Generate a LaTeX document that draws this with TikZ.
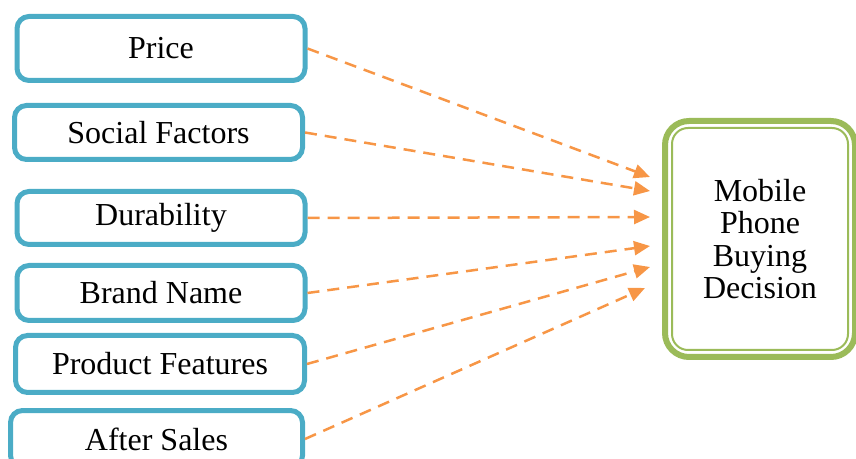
\documentclass[tikz,border=0pt]{standalone}
\usepackage{fontspec}
\setmainfont{Liberation Serif}
\usetikzlibrary{positioning, arrows.meta}

\definecolor{boxblue}{HTML}{4BACC6}
\definecolor{decgreen}{HTML}{9BBB59}
\definecolor{arrorange}{HTML}{F79646}

\begin{document}
\begin{tikzpicture}[x=0.5pt, y=-0.5pt,
		factor/.style={draw=boxblue, line width=2.5pt, rounded corners=6pt, minimum width=144pt, font=\fontsize{16}{18}\selectfont},
		flow/.style={-{Triangle[length=8pt, width=7pt]}, draw=arrorange, line width=1.25pt, dash pattern=on 6pt off 4pt}]
			\useasboundingbox (0,0) rectangle (856,459);

			\node[factor, minimum height=32pt] (price) at (161,48.5) {Price};
			\node[factor, minimum height=27pt] (social) at (158.5,132.5) {Social Factors};
			\node[factor, minimum height=26.5pt] (durab) at (161,218) {Durability};
			\node[factor, minimum height=27.5pt] (brand) at (161,293) {Brand Name};
			\node[factor, minimum height=28.5pt, minimum width=144.5pt] (feat) at (160,364) {Product Features};
			\node[factor, minimum height=28.5pt, minimum width=146pt] (after) at (156.5,439) {After Sales};

			% decision box with double border
			\node[draw=decgreen, line width=3pt, rounded corners=12pt, minimum width=95pt, minimum height=118pt,
				align=center, font=\fontsize{16}{16.2}\selectfont] (decision) at (760,239) {Mobile\\Phone\\Buying\\Decision};
			\draw[decgreen, line width=1pt, rounded corners=8pt] ([shift={(5pt,-5pt)}]decision.north west) rectangle ([shift={(-5pt,5pt)}]decision.south east);

			\coordinate (t1) at (650,177);
			\coordinate (t2) at (650,191);
			\coordinate (t3) at (650,217);
			\coordinate (t4) at (650,246);
			\coordinate (t5) at (650,267);
			\coordinate (t6) at (645,288);

			\foreach \src/\dst in {price/t1, social/t2, durab/t3, brand/t4, feat/t5, after/t6}
				\draw[flow] (\src.east) -- (\dst);
		\end{tikzpicture}
\end{document}
